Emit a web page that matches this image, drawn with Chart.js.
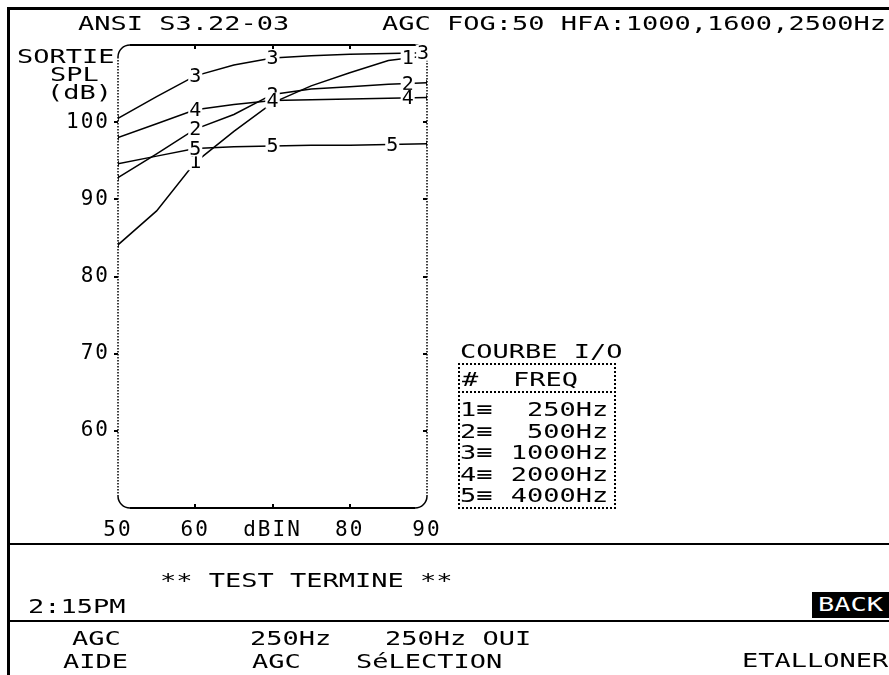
<!DOCTYPE html>
<html>
<head>
<meta charset="utf-8">
<script src="https://cdn.jsdelivr.net/npm/chart.js@4.4.1/dist/chart.umd.min.js"></script>
<style>
  html, body { margin: 0; padding: 0; background: #fff; }
  #screen { position: relative; width: 889px; height: 675px; overflow: hidden; background: #fff; }
  #plot { position: absolute; left: 0; top: 0; }
  .t { position: absolute; font-family: 'DejaVu Sans Mono', monospace; font-size: 20px; line-height: 20px;
       white-space: pre; color: #000; transform: scaleX(1.35); transform-origin: 0 0; }
  .r { transform-origin: 100% 0; text-align: right; }
  .bar { position: absolute; background: #000; }
  .dots { position: absolute; border: 2px dotted #000; box-sizing: border-box; }
</style>
</head>
<body>
<div id="screen">
  <canvas id="plot" width="889" height="675"></canvas>

  <!-- screen frame and separators -->
  <div class="bar" style="left:7px;top:7px;width:3px;height:668px"></div>
  <div class="bar" style="left:7px;top:7px;width:882px;height:3px"></div>
  <div class="bar" style="left:9px;top:543px;width:880px;height:2px"></div>
  <div class="bar" style="left:9px;top:620px;width:880px;height:2px"></div>

  <!-- header -->
  <div class="t" style="left:78px;top:13px">ANSI S3.22-03</div>
  <div class="t" style="left:382px;top:13px">AGC FOG:50 HFA:1000,1600,2500Hz</div>

  <!-- y axis title -->
  <div class="t" style="left:17px;top:46px">SORTIE</div>
  <div class="t" style="left:50px;top:64px">SPL</div>
  <div class="t" style="left:47px;top:82px">(dB)</div>

  <!-- curve key -->
  <div class="t" style="left:460px;top:341px">COURBE I/O</div>
  <div class="dots" style="left:458px;top:363px;width:158px;height:146px"></div>
  <div class="dots" style="left:458px;top:391px;width:158px;height:2px;border-width:2px 0 0 0"></div>
  <div class="t" style="left:462px;top:369px">#</div>
  <div class="t" style="left:513px;top:369px">FREQ</div>
  <div id="keyRows"></div>

  <!-- status line -->
  <div class="t" style="left:160px;top:570px">** TEST TERMINE **</div>
  <div class="t" style="left:28px;top:596px">2:15PM</div>
  <div class="bar" style="left:812px;top:592px;width:77px;height:26px"></div>
  <div class="t" style="left:818px;top:594px;color:#fff">BACK</div>

  <!-- soft keys -->
  <div class="t" style="left:72px;top:628px">AGC</div>
  <div class="t" style="left:63px;top:651px">AIDE</div>
  <div class="t" style="left:250px;top:628px">250Hz</div>
  <div class="t" style="left:252px;top:651px">AGC</div>
  <div class="t" style="left:385px;top:628px">250Hz OUI</div>
  <div class="t" style="left:356px;top:651px">SéLECTION</div>
  <div class="t r" style="right:1px;top:650px">ETALLONER</div>
</div>

<script>
// Input level (dB SPL) at which each I/O curve is sampled
const inputLevels = [50, 55, 60, 65, 70, 75, 80, 85, 90];

// Output SPL (dB) per test frequency
const out250  = [84.1, 88.5, 94.8, 98.8, 102.5, 104.7, 106.4, 108.0, 108.6];
const out500  = [92.8, 95.9, 99.1, 101.0, 103.6, 104.3, 104.6, 104.9, 105.1];
const out1000 = [100.5, 103.3, 106.0, 107.4, 108.3, 108.6, 108.8, 108.9, 109.0];
const out2000 = [98.0, 99.8, 101.6, 102.3, 102.8, 102.9, 103.0, 103.1, 103.2];
const out4000 = [94.6, 95.6, 96.6, 96.8, 96.9, 97.0, 97.0, 97.1, 97.2];

const curveNumbers = ['1', '2', '3', '4', '5'];
const curveFreqs = ['250Hz', '500Hz', '1000Hz', '2000Hz', '4000Hz'];

// Input levels where each curve carries its number tag
const tagLevels = [
  [60, 87.5],
  [60, 70, 87.5],
  [60, 70, 89.5],
  [60, 70, 87.5],
  [60, 70, 85.5]
];

// Axis ticks
const xTickValues = [50, 60, 70, 80, 90];
const xTickText = ['50', '60', 'dBIN', '80', '90'];
const yTickValues = [60, 70, 80, 90, 100];
const innerXTicks = [60, 70, 80];

const outputs = [out250, out500, out1000, out2000, out4000];

// key rows beside the plot
const keyRows = document.getElementById('keyRows');
curveNumbers.forEach((n, i) => {
  const top = 399 + i * 21.5;
  const a = document.createElement('div');
  a.className = 't';
  a.style.left = '460px';
  a.style.top = top + 'px';
  a.textContent = n + '\u2261';
  keyRows.appendChild(a);
  const b = document.createElement('div');
  b.className = 't r';
  b.style.right = (889 - 608) + 'px';
  b.style.top = top + 'px';
  b.textContent = curveFreqs[i];
  keyRows.appendChild(b);
});

const FONT = "'DejaVu Sans Mono', monospace";

// wide terminal-style lettering for the axis numbers
const spacingPlugin = {
  id: 'wideText',
  beforeDraw(chart) { chart.ctx.letterSpacing = '2px'; },
  afterDraw(chart) { chart.ctx.letterSpacing = '0px'; }
};

// rounded plot frame: solid top/bottom, dotted sides, inner tick marks
const framePlugin = {
  id: 'frame',
  beforeDatasetsDraw(chart) {
    const { ctx, chartArea: a, scales } = chart;
    const r = 12;
    ctx.save();
    ctx.strokeStyle = '#000';
    ctx.lineWidth = 2;
    ctx.beginPath();
    ctx.moveTo(a.left + r, a.top); ctx.lineTo(a.right - r, a.top);
    ctx.moveTo(a.left + r, a.bottom); ctx.lineTo(a.right - r, a.bottom);
    ctx.stroke();
    ctx.lineWidth = 1.5;
    ctx.beginPath();
    ctx.arc(a.left + r, a.top + r, r, Math.PI, 1.5 * Math.PI);
    ctx.moveTo(a.right - r, a.top);
    ctx.arc(a.right - r, a.top + r, r, 1.5 * Math.PI, 2 * Math.PI);
    ctx.moveTo(a.right, a.bottom - r);
    ctx.arc(a.right - r, a.bottom - r, r, 0, 0.5 * Math.PI);
    ctx.moveTo(a.left + r, a.bottom);
    ctx.arc(a.left + r, a.bottom - r, r, 0.5 * Math.PI, Math.PI);
    ctx.stroke();
    ctx.setLineDash([1.5, 1.5]);
    ctx.beginPath();
    ctx.moveTo(a.left, a.top + r); ctx.lineTo(a.left, a.bottom - r);
    ctx.moveTo(a.right, a.top + r); ctx.lineTo(a.right, a.bottom - r);
    ctx.stroke();
    ctx.setLineDash([]);
    ctx.lineWidth = 2;
    ctx.beginPath();
    yTickValues.forEach(v => {
      const y = Math.round(scales.y.getPixelForValue(v));
      ctx.moveTo(a.left - 4, y); ctx.lineTo(a.left, y);
      ctx.moveTo(a.right - 4, y); ctx.lineTo(a.right, y);
    });
    innerXTicks.forEach(v => {
      const x = Math.round(scales.x.getPixelForValue(v));
      ctx.moveTo(x, a.top); ctx.lineTo(x, a.top + 4);
      ctx.moveTo(x, a.bottom); ctx.lineTo(x, a.bottom - 4);
    });
    ctx.stroke();
    ctx.restore();
  }
};

// curve number tags sitting on each curve
function levelOn(series, x) {
  for (let i = 0; i < inputLevels.length - 1; i++) {
    const x0 = inputLevels[i], x1 = inputLevels[i + 1];
    if (x >= x0 && x <= x1) {
      const t = (x - x0) / (x1 - x0);
      return series[i] + t * (series[i + 1] - series[i]);
    }
  }
  return series[series.length - 1];
}

const tagPlugin = {
  id: 'curveTags',
  afterDatasetsDraw(chart) {
    const { ctx, scales } = chart;
    ctx.save();
    ctx.letterSpacing = '0px';
    ctx.font = '20px ' + FONT;
    ctx.textAlign = 'center';
    ctx.textBaseline = 'middle';
    outputs.forEach((series, i) => {
      tagLevels[i].forEach(x => {
        const px = scales.x.getPixelForValue(x);
        const py = scales.y.getPixelForValue(levelOn(series, x));
        const w = ctx.measureText(curveNumbers[i]).width;
        ctx.fillStyle = '#fff';
        ctx.fillRect(px - w / 2 - 1, py - 8, w + 2, 16);
        ctx.fillStyle = '#000';
        ctx.fillText(curveNumbers[i], px, py + 1);
      });
    });
    ctx.restore();
  }
};

const lastIndex = inputLevels.length - 1;

new Chart(document.getElementById('plot'), {
  type: 'line',
  data: {
    datasets: outputs.map((series, i) => ({
      label: curveFreqs[i],
      data: series.map((y, k) => ({ x: inputLevels[k], y })),
      borderColor: '#000',
      borderWidth: 1.5,
      tension: 0,
      fill: false,
      pointStyle: 'line',
      rotation: 90,
      pointBorderColor: '#000',
      pointBorderWidth: 1.5,
      pointRadius: ctx => (ctx.dataIndex === 0 || ctx.dataIndex === lastIndex) ? 3 : 0
    }))
  },
  options: {
    responsive: false,
    animation: false,
    devicePixelRatio: 1,
    events: [],
    layout: { padding: { left: 0, right: 462, top: 45, bottom: 137 } },
    plugins: { legend: { display: false }, tooltip: { enabled: false } },
    scales: {
      x: {
        type: 'linear',
        min: 50, max: 90,
        afterBuildTicks: s => { s.ticks = xTickValues.map(v => ({ value: v })); },
        afterFit: s => { s.height = 30; },
        grid: { display: false },
        border: { display: false },
        ticks: {
          padding: 2,
          color: '#000',
          font: { family: FONT, size: 21 },
          maxRotation: 0,
          autoSkip: false,
          callback: v => xTickText[xTickValues.indexOf(v)]
        }
      },
      y: {
        min: 50, max: 110,
        afterBuildTicks: s => { s.ticks = yTickValues.map(v => ({ value: v })); },
        afterFit: s => { s.width = 118; },
        grid: { display: false },
        border: { display: false },
        ticks: {
          padding: 0,
          color: '#000',
          font: { family: FONT, size: 21 },
          callback: v => String(v)
        }
      }
    }
  },
  plugins: [spacingPlugin, framePlugin, tagPlugin]
});
</script>
</body>
</html>
